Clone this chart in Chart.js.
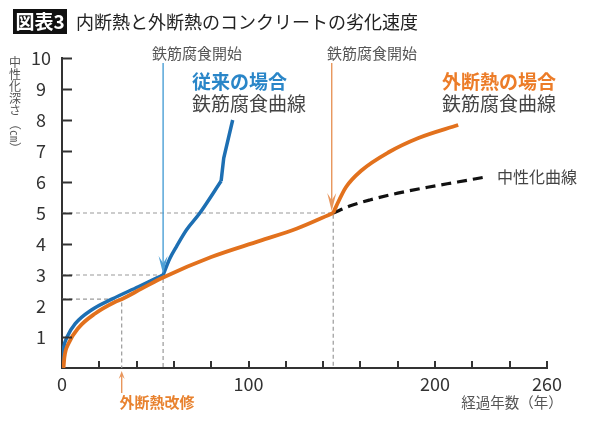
<!DOCTYPE html>
<html>
<head>
<meta charset="utf-8">
<script src="https://cdn.jsdelivr.net/npm/chart.js@4/dist/chart.umd.min.js"></script>
<style>
  html, body { margin: 0; padding: 0; background: #fff; }
  #wrap { position: relative; width: 600px; height: 422px; }
</style>
</head>
<body>
<div id="wrap"><canvas id="chart"></canvas></div>
<script>
// ── data (years, depth cm) ───────────────────────────────────────────────────
const xTickValues  = [0, 20, 40, 60, 80, 100, 120, 140, 160, 180, 200, 220, 240, 260];
const xLabelValues = [0, 100, 200, 260];
const yTickMarks   = [1, 2.22, 3, 4, 5, 6, 7, 8, 9, 10];

// conventional case (blue)
const blueEarlyX = [0, 0.4, 1, 2.7, 7.1, 16, 26.7, 40.9, 54.2];
const blueEarlyY = [0, 0.45, 0.7, 1.0, 1.43, 1.88, 2.22, 2.62, 3.0];
const blueRiseX  = [54.2, 57.8, 61.3, 66.7, 73.8, 85.3];
const blueRiseY  = [3.0, 3.53, 3.91, 4.45, 4.99, 6.03];
const blueTopX   = [85.3, 86.7, 91.5];
const blueTopY   = [6.03, 6.77, 8.0];

// external insulation (orange)
const orangeEarlyX = [0.8, 1.3, 3.5, 8.9, 17.8, 28.4, 32, 42.7, 54.2, 80, 106, 126, 145.4];
const orangeEarlyY = [0, 0.35, 0.79, 1.3, 1.76, 2.13, 2.22, 2.56, 2.92, 3.58, 4.1, 4.5, 5.0];
const orangeLateX  = [145.4, 146.8, 152.2, 160.7, 175.1, 191.1, 212.4];
const orangeLateY  = [5.0, 5.19, 5.83, 6.38, 6.96, 7.42, 7.84];

// carbonation curve (black dashed)
const neutralX = [145.4, 155, 165, 180, 196, 212, 227];
const neutralY = [5.0, 5.24, 5.42, 5.64, 5.83, 6.0, 6.16];

// guide lines
const guideX = [[0, 145.4, 145.4], [0, 54.2, 54.2], [0, 32, 32]];
const guideY = [[5, 5, 0], [3, 3, 0], [2.22, 2.22, 0]];

const BLUE   = "#1d6fb3";
const ORANGE = "#e2711d";
const FONT   = "'Noto Sans CJK JP', 'Noto Sans', sans-serif";

const pts = (xs, ys) => xs.map((x, i) => ({ x, y: ys[i] }));

function curve(xs, ys, color, opts = {}) {
    return {
        data: pts(xs, ys),
        borderColor: color,
        borderWidth: opts.width ?? 3.5,
        borderDash: opts.dash || [],
        cubicInterpolationMode: opts.smooth === false ? "default" : "monotone",
        tension: 0,
        pointRadius: 0,
        fill: false,
        borderCapStyle: "butt",
        borderJoinStyle: "round",
        order: opts.order ?? 0,
    };
}

const datasets = [
    curve(orangeEarlyX, orangeEarlyY, ORANGE, { order: 0, width: 3.8 }),
    curve(orangeLateX,  orangeLateY,  ORANGE, { order: 0, width: 3.8 }),
    curve(blueEarlyX, blueEarlyY, BLUE, { order: 1 }),
    curve(blueRiseX,  blueRiseY,  BLUE, { order: 1 }),
    curve(blueTopX,   blueTopY,   BLUE, { order: 1, smooth: false }),
    curve(neutralX, neutralY, "#111", { order: 2, width: 3.2, dash: [10, 6] }),
    ...guideX.map((xs, i) => curve(xs, guideY[i], "#9a9a9a", { order: 3, width: 1.2, dash: [4, 3], smooth: false })),
];

// ── annotations: inward ticks, arrows, text ─────────────────────────────────
function arrow(ctx, x, y0, y1, color, w, headW, headH) {
    ctx.save();
    ctx.strokeStyle = color;
    ctx.fillStyle = color;
    ctx.lineWidth = w;
    const dir = Math.sign(y1 - y0);
    ctx.beginPath();
    ctx.moveTo(x, y0);
    ctx.lineTo(x, y1 - dir * headH * 0.6);
    ctx.stroke();
    ctx.beginPath();
    ctx.moveTo(x, y1);
    ctx.lineTo(x - headW / 2, y1 - dir * headH);
    ctx.lineTo(x, y1 - dir * headH * 0.6);
    ctx.lineTo(x + headW / 2, y1 - dir * headH);
    ctx.closePath();
    ctx.fill();
    ctx.restore();
}

function text(ctx, str, x, y, font, color, align = "left") {
    ctx.font = font;
    ctx.fillStyle = color;
    ctx.textAlign = align;
    ctx.textBaseline = "middle";
    ctx.fillText(str, x, y);
}

const annotate = {
    id: "annotate",
    afterDraw(chart) {
        const { ctx, scales: { x, y } } = chart;
        const left = x.left, bottom = y.bottom;
        ctx.save();

        // tick marks pointing into the plot
        ctx.strokeStyle = "#333";
        ctx.lineWidth = 2;
        yTickMarks.forEach(v => {
            const py = Math.round(y.getPixelForValue(v)) + 0.5;
            ctx.beginPath(); ctx.moveTo(left, py); ctx.lineTo(left + 10, py); ctx.stroke();
        });
        xTickValues.slice(1).forEach(v => {
            const px = Math.round(x.getPixelForValue(v));
            ctx.beginPath(); ctx.moveTo(px, bottom); ctx.lineTo(px, bottom - 7); ctx.stroke();
        });

        // corrosion start arrows
        arrow(ctx, x.getPixelForValue(54.2), 63, y.getPixelForValue(3.0) - 1, "#4b9fd6", 1.4, 9, 18);
        arrow(ctx, x.getPixelForValue(145.4) - 1.5, 63, y.getPixelForValue(5.0) - 2, "#e8965c", 1.4, 9, 18);
        arrow(ctx, x.getPixelForValue(32), 393, 371, "#e8965c", 1.4, 6, 8);

        // labels
        text(ctx, "鉄筋腐食開始", 152, 53, `15px ${FONT}`, "#555");
        text(ctx, "鉄筋腐食開始", 327, 53, `15px ${FONT}`, "#555");
        text(ctx, "従来の場合", 192, 82, `bold 19px ${FONT}`, "#2a86c8");
        text(ctx, "鉄筋腐食曲線", 192, 104, `19px ${FONT}`, "#444");
        text(ctx, "外断熱の場合", 442, 82, `bold 19px ${FONT}`, "#ec7c28");
        text(ctx, "鉄筋腐食曲線", 442, 104, `19px ${FONT}`, "#444");
        text(ctx, "中性化曲線", 497, 177, `16px ${FONT}`, "#444");
        text(ctx, "外断熱改修", 157, 402, `bold 15px ${FONT}`, "#e8822f", "center");
        text(ctx, "経過年数（年）", 512, 402, `14.5px ${FONT}`, "#555", "center");

        // vertical axis title
        const chars = ["中", "性", "化", "深", "さ"];
        chars.forEach((c, i) => text(ctx, c, 15, 62 + i * 12.2, `12px ${FONT}`, "#555", "center"));
        ctx.save();
        ctx.translate(15, 136);
        ctx.rotate(Math.PI / 2);
        text(ctx, "（㎝）", 0, 0, `12px ${FONT}`, "#555", "center");
        ctx.restore();

        // header
        ctx.fillStyle = "#111";
        ctx.fillRect(13, 9, 54, 25);
        text(ctx, "図表3", 40, 22, `bold 19px ${FONT}`, "#fff", "center");
        text(ctx, "内断熱と外断熱のコンクリートの劣化速度", 76, 22, `18px ${FONT}`, "#222");

        ctx.restore();
    },
};

new Chart(document.getElementById("chart"), {
    type: "line",
    data: { datasets },
    options: {
        responsive: true,
        maintainAspectRatio: false,
        animation: false,
        layout: { padding: { top: 58, right: 53, left: 0, bottom: 0 } },
        plugins: { legend: { display: false }, tooltip: { enabled: false } },
        scales: {
            x: {
                type: "linear",
                min: 0,
                max: 260,
                afterBuildTicks: s => { s.ticks = xTickValues.map(v => ({ value: v })); },
                afterFit: s => { s.height = 54; },
                grid: { display: false, drawTicks: false },
                border: { display: true, color: "#333", width: 2 },
                ticks: {
                    autoSkip: false,
                    maxRotation: 0,
                    padding: 5,
                    color: "#333",
                    font: { family: FONT, size: 18 },
                    callback: v => xLabelValues.includes(v) ? String(v) : "",
                },
            },
            y: {
                min: 0,
                max: 10,
                afterFit: s => { s.width = 62; },
                grid: { display: false, drawTicks: false },
                border: { display: true, color: "#333", width: 2 },
                ticks: {
                    stepSize: 1,
                    padding: 11,
                    crossAlign: "center",
                    color: "#333",
                    font: { family: FONT, size: 18 },
                    callback: v => v === 0 ? "" : String(v),
                },
            },
        },
    },
    plugins: [annotate],
});
</script>
</body>
</html>
